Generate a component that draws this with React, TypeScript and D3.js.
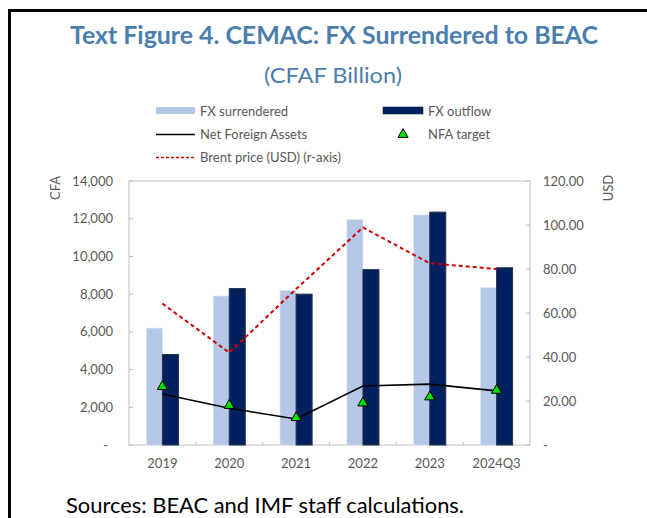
import React from 'react';
import * as d3 from 'd3';

const categories = ['2019', '2020', '2021', '2022', '2023', '2024Q3'];
const fxSurrendered = [6200, 7900, 8200, 11950, 12200, 8350];
const fxOutflow = [4800, 8300, 8000, 9300, 12350, 9400];
const netForeignAssets = [2700, 1950, 1380, 3130, 3230, 2870];
const nfaTarget = [3100, 2100, 1450, 2230, 2550, 2900];
const brentPrice = [64.3, 42.0, 70.9, 98.9, 82.6, 80.0];
const leftTicks = [0, 2000, 4000, 6000, 8000, 10000, 12000, 14000];
const rightTicks = [0, 20, 40, 60, 80, 100, 120];

const W = 647;
const H = 518;
const plot = { left: 129, right: 530, top: 181, bottom: 445 };
const tickColor = '#595959';
const frameColor = '#BFBFBF';
const font = 'Lato, "Open Sans", sans-serif';

const App = () => {
  const x = d3.scaleBand<string>()
    .domain(categories)
    .range([plot.left, plot.right])
    .padding(0);
  const yLeft = d3.scaleLinear().domain([0, 14000]).range([plot.bottom, plot.top]);
  const yRight = d3.scaleLinear().domain([0, 120]).range([plot.bottom, plot.top]);
  const barW = x.bandwidth() * 0.24;
  const mid = (c: string) => (x(c) as number) + x.bandwidth() / 2;

  const fmtLeft = (v: number) => (v === 0 ? '-' : d3.format(',')(v));
  const fmtRight = (v: number) => (v === 0 ? '-' : d3.format('.2f')(v));

  const nfaLine = d3.line<number>()
    .x((d, i) => mid(categories[i]))
    .y(d => yLeft(d));
  const brentLine = d3.line<number>()
    .x((d, i) => mid(categories[i]))
    .y(d => yRight(d));

  const tri = d3.symbol().type(d3.symbolTriangle).size(45);

  return (
    <svg width={W} height={H} style={{ position: 'absolute', left: 0, top: 0, background: 'white' }}
      fontFamily={font}>
      {/* outer box */}
      <path d={`M9.5,${H} V10.5 H${W}`} fill="none" stroke="black" strokeWidth={3} />

      <text x={70} y={44} fontSize={24} fontWeight="bold" fill="#4A7EAE"
        textLength={528} lengthAdjust="spacingAndGlyphs">
        Text Figure 4. CEMAC: FX Surrendered to BEAC
      </text>
      <text x={264} y={83} fontSize={21} fill="#4A7EAE"
        textLength={138} lengthAdjust="spacingAndGlyphs">(CFAF Billion)</text>

      {/* legend */}
      <g fontSize={13} fill={tickColor}>
        <rect x={156} y={107} width={39} height={7} fill="#B4C7E7" />
        <text x={200} y={116}>FX surrendered</text>
        <rect x={383} y={107} width={40} height={7} fill="#002060" stroke="#1F2A44" strokeWidth={0.6} />
        <text x={428} y={116}>FX outflow</text>
        <line x1={156} x2={195} y1={134.5} y2={134.5} stroke="black" strokeWidth={1.5} />
        <text x={200} y={139}>Net Foreign Assets</text>
        <path d={tri() as string} transform="translate(403,134.5)" fill="#00E000" stroke="black" strokeWidth={1} />
        <text x={428} y={139}>NFA target</text>
        <line x1={156} x2={195} y1={157.5} y2={157.5} stroke="#D00000" strokeWidth={1.5} strokeDasharray="3,2" />
        <text x={200} y={162} textLength={141} lengthAdjust="spacingAndGlyphs">Brent price (USD) (r-axis)</text>
      </g>

      {/* frame */}
      <rect x={plot.left} y={plot.top} width={plot.right - plot.left} height={plot.bottom - plot.top}
        fill="none" stroke={frameColor} strokeWidth={1} />

      {/* left axis */}
      {leftTicks.map(t => (
        <g key={'l' + t}>
          <line x1={plot.left} x2={plot.left + 4} y1={yLeft(t)} y2={yLeft(t)} stroke={frameColor} />
          <text x={t === 0 ? 108 : 113} y={yLeft(t) + 4.5} textAnchor="end" fontSize={13} fill={tickColor}>
            {fmtLeft(t)}
          </text>
        </g>
      ))}
      {/* right axis */}
      {rightTicks.map(t => (
        <g key={'r' + t}>
          <line x1={plot.right - 4} x2={plot.right} y1={yRight(t)} y2={yRight(t)} stroke={frameColor} />
          <text x={543} y={yRight(t) + 4.5} textAnchor="start" fontSize={13} fill={tickColor}>
            {fmtRight(t)}
          </text>
        </g>
      ))}
      <text transform="translate(60,188) rotate(-90)" textAnchor="middle" fontSize={13} fill={tickColor}>CFA</text>
      <text transform="translate(613,188) rotate(-90)" textAnchor="middle" fontSize={13} fill={tickColor}>USD</text>

      {/* bars */}
      {categories.map((c, i) => (
        <g key={c}>
          <rect x={mid(c) - barW} y={yLeft(fxSurrendered[i])} width={barW}
            height={plot.bottom - yLeft(fxSurrendered[i])} fill="#B4C7E7" stroke="#DCE6F5" strokeWidth={0.6} />
          <rect x={mid(c)} y={yLeft(fxOutflow[i])} width={barW}
            height={plot.bottom - yLeft(fxOutflow[i])} fill="#002060" stroke="#2B3448" strokeWidth={1} />
        </g>
      ))}

      {/* x axis ticks and labels */}
      {d3.range(1, categories.length).map(i => (
        <line key={'xt' + i} x1={plot.left + i * x.bandwidth()} x2={plot.left + i * x.bandwidth()}
          y1={plot.bottom} y2={plot.bottom - 3} stroke={frameColor} />
      ))}
      {categories.map(c => (
        <text key={'xl' + c} x={mid(c)} y={468} textAnchor="middle" fontSize={13} fill={tickColor}>{c}</text>
      ))}

      {/* lines */}
      <path d={brentLine(brentPrice) as string} fill="none" stroke="#D00000" strokeWidth={2} strokeDasharray="4,3" />
      <path d={nfaLine(netForeignAssets) as string} fill="none" stroke="black" strokeWidth={1.6} />
      {categories.map((c, i) => (
        <path key={'t' + c} d={tri() as string} transform={`translate(${mid(c)},${yLeft(nfaTarget[i])})`}
          fill="#00E000" stroke="black" strokeWidth={1} />
      ))}

      <text x={66} y={513} fontSize={21} fill="black" textLength={398} lengthAdjust="spacingAndGlyphs">
        Sources: BEAC and IMF staff calculations.
      </text>
    </svg>
  );
};

export default App;
